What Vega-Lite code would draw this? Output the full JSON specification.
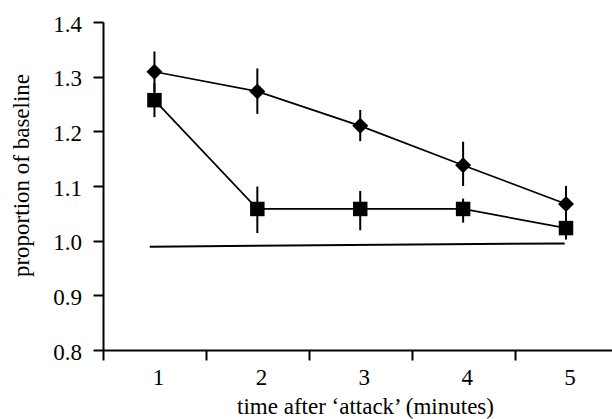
{
  "$schema": "https://vega.github.io/schema/vega-lite/v6.json",
  "autosize": "none",
  "width": 509,
  "height": 328,
  "padding": {"left": 103, "top": 22, "right": 0, "bottom": 69},
  "background": "white",
  "config": {
    "view": {"stroke": null},
    "font": "Liberation Serif",
    "axis": {
      "grid": false,
      "domainColor": "black",
      "domainWidth": 2,
      "tickColor": "black",
      "tickWidth": 2,
      "tickSize": 10,
      "labelColor": "black",
      "titleColor": "black",
      "labelFont": "Liberation Serif",
      "titleFont": "Liberation Serif",
      "labelFontSize": 23,
      "titleFontSize": 23,
      "titleFontWeight": "normal"
    }
  },
  "datasets": {
    "points": [
      {"series": "A", "time": 1, "value": 1.309, "low": 1.272, "high": 1.346},
      {"series": "A", "time": 2, "value": 1.273, "low": 1.232, "high": 1.315},
      {"series": "A", "time": 3, "value": 1.210, "low": 1.182, "high": 1.239},
      {"series": "A", "time": 4, "value": 1.138, "low": 1.100, "high": 1.181},
      {"series": "A", "time": 5, "value": 1.067, "low": 1.036, "high": 1.100},
      {"series": "B", "time": 1, "value": 1.257, "low": 1.226, "high": 1.288},
      {"series": "B", "time": 2, "value": 1.058, "low": 1.014, "high": 1.099},
      {"series": "B", "time": 3, "value": 1.058, "low": 1.019, "high": 1.091},
      {"series": "B", "time": 4, "value": 1.058, "low": 1.033, "high": 1.077},
      {"series": "B", "time": 5, "value": 1.023, "low": 1.002, "high": 1.044}
    ],
    "baseline": [
      {"time": 0.954, "value": 0.989},
      {"time": 4.987, "value": 0.995}
    ]
  },
  "encoding": {
    "x": {
      "field": "time",
      "type": "quantitative",
      "scale": {"domain": [0.5, 5.447], "nice": false, "zero": false},
      "axis": {
        "title": "time after \u2018attack\u2019 (minutes)",
        "values": [0.5, 1.5, 2.5, 3.5, 4.5],
        "labelExpr": "datum.value + 0.5",
        "labelOffset": 55,
        "labelBaseline": "alphabetic",
        "labelPadding": 24,
        "labelFlush": false,
        "labelOverlap": false,
        "titleX": 262,
        "titleY": 63,
        "titleBaseline": "alphabetic",
        "titleAlign": "center"
      }
    },
    "y": {
      "field": "value",
      "type": "quantitative",
      "scale": {"domain": [0.8, 1.4], "nice": false, "zero": false},
      "axis": {
        "title": "proportion of baseline",
        "values": [0.8, 0.9, 1.0, 1.1, 1.2, 1.3, 1.4],
        "format": ".1f",
        "labelPadding": 11.5,
        "labelOffset": 2,
        "labelFlush": false,
        "labelOverlap": false,
        "titleAngle": -90,
        "titleX": -75,
        "titleY": 153,
        "titleBaseline": "alphabetic",
        "titleAlign": "center"
      }
    }
  },
  "layer": [
    {
      "data": {"name": "baseline"},
      "mark": {"type": "line", "color": "black", "strokeWidth": 2},
      "encoding": {}
    },
    {
      "data": {"name": "points"},
      "mark": {"type": "rule", "color": "black", "strokeWidth": 2},
      "encoding": {
        "y": {"field": "low", "type": "quantitative"},
        "y2": {"field": "high"}
      }
    },
    {
      "data": {"name": "points"},
      "mark": {"type": "line", "color": "black", "strokeWidth": 1.7},
      "encoding": {
        "detail": {"field": "series", "type": "nominal"}
      }
    },
    {
      "data": {"name": "points"},
      "mark": {"type": "point", "filled": true, "color": "black", "opacity": 1},
      "encoding": {
        "shape": {
          "field": "series",
          "type": "nominal",
          "scale": {"domain": ["A", "B"], "range": ["diamond", "square"]},
          "legend": null
        },
        "size": {
          "field": "series",
          "type": "nominal",
          "scale": {"domain": ["A", "B"], "range": [256, 210]},
          "legend": null
        }
      }
    }
  ]
}
